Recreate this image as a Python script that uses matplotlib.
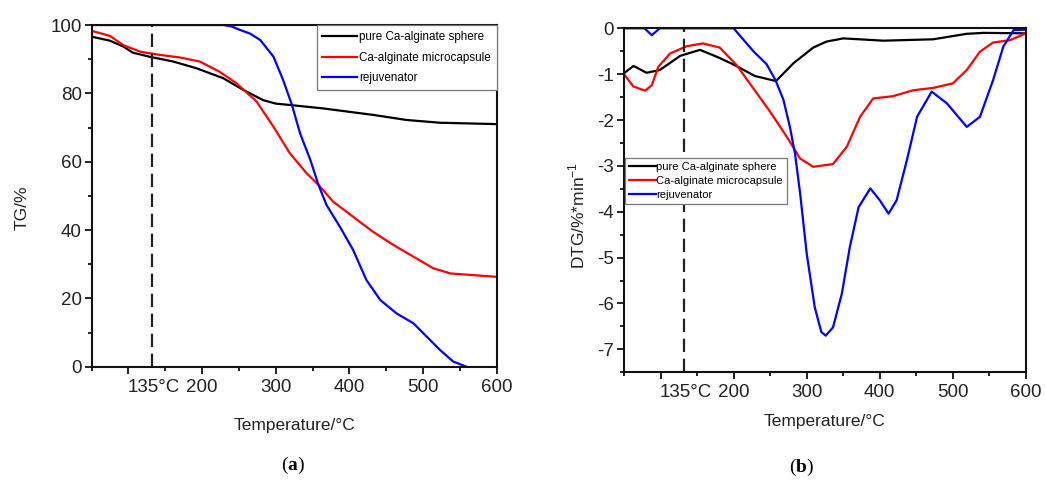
import numpy as np
import matplotlib.pyplot as plt
from matplotlib.ticker import FixedLocator, MultipleLocator
import matplotlib.transforms as mtransforms

plt.rcParams['font.family'] = ['Liberation Sans', 'DejaVu Sans']
plt.rcParams['axes.unicode_minus'] = False
plt.rcParams['mathtext.fontset'] = 'custom'
plt.rcParams['mathtext.rm'] = 'Liberation Sans'
plt.rcParams['mathtext.bf'] = 'Liberation Serif:bold'

# ---- TG data (panel a) ----
tg_sphere_T = [50, 75, 93, 106, 129, 161, 193, 229, 256, 283, 300, 319, 364, 432, 478, 523, 600]
tg_sphere_v = [96.6, 95.4, 93.7, 91.9, 90.7, 89.3, 87.3, 84.4, 81.0, 78.0, 77.0, 76.6, 75.6, 73.7, 72.2, 71.4, 71.0]

tg_capsule_T = [50, 75, 93, 116, 138, 170, 197, 224, 247, 274, 297, 319, 342, 358, 378, 405, 432, 460, 487, 514, 537, 568, 600]
tg_capsule_v = [98.3, 96.8, 94.1, 92.2, 91.4, 90.5, 89.3, 86.3, 82.9, 77.6, 70.2, 62.5, 56.6, 53.2, 48.3, 43.9, 39.5, 35.6, 32.2, 28.8, 27.3, 26.8, 26.3]

tg_rejuv_T = [50, 229, 240, 251, 265, 279, 297, 310, 322, 333, 347, 358, 369, 387, 405, 423, 442, 464, 487, 505, 523, 541, 559]
tg_rejuv_v = [100, 100, 99.6, 98.6, 97.5, 95.6, 90.7, 83.9, 76.6, 68.3, 60.5, 53.2, 47.3, 41.0, 34.2, 25.4, 19.5, 15.6, 12.7, 8.8, 4.9, 1.5, 0.0]

# ---- DTG data (panel b) ----
dtg_sphere_T = [50, 63, 81, 99, 127, 154, 177, 200, 229, 258, 282, 309, 327, 350, 405, 473, 519, 542, 600]
dtg_sphere_v = [-0.98, -0.82, -0.97, -0.91, -0.6, -0.47, -0.62, -0.79, -1.04, -1.15, -0.76, -0.42, -0.29, -0.22, -0.27, -0.24, -0.12, -0.1, -0.11]

dtg_capsule_T = [50, 63, 79, 88, 97, 113, 136, 158, 181, 204, 222, 250, 273, 291, 309, 336, 355, 373, 391, 418, 446, 473, 500, 519, 537, 555, 578, 600]
dtg_capsule_v = [-1.0, -1.27, -1.36, -1.24, -0.84, -0.55, -0.39, -0.33, -0.42, -0.8, -1.2, -1.82, -2.37, -2.84, -3.02, -2.96, -2.58, -1.93, -1.53, -1.48, -1.35, -1.3, -1.2, -0.91, -0.51, -0.31, -0.26, -0.11]

dtg_rejuv_T = [50, 78, 88, 99, 200, 227, 245, 257, 268, 277, 284, 291, 300, 311, 320, 326, 336, 348, 359, 371, 387, 400, 412, 423, 437, 451, 471, 492, 519, 537, 555, 569, 583, 600]
dtg_rejuv_v = [0.0, 0.0, -0.15, 0.0, 0.0, -0.5, -0.78, -1.12, -1.55, -2.15, -2.73, -3.6, -4.91, -6.08, -6.62, -6.70, -6.52, -5.79, -4.77, -3.9, -3.49, -3.75, -4.04, -3.75, -2.88, -1.93, -1.38, -1.64, -2.15, -1.93, -1.13, -0.4, -0.04, -0.03]

labels = ['pure Ca-alginate sphere', 'Ca-alginate microcapsule', 'rejuvenator']
colors = ['#000000', '#ff0000', '#0000ff']
mark_T = 132

fig = plt.figure(figsize=(10.45, 4.82), dpi=100)
ax1 = fig.add_axes([0.0877, 0.2392, 0.3876, 0.7089])
ax2 = fig.add_axes([0.5971, 0.2276, 0.3847, 0.7137])


def style_axis(ax):
    for s in ax.spines.values():
        s.set_linewidth(1.5)
        s.set_color('#111111')
    ax.tick_params(which='both', direction='out', top=False, right=False,
                   width=1.3, colors='#111111', labelcolor='#222222', labelsize=13.5)
    ax.tick_params(which='major', length=5)
    ax.tick_params(which='minor', length=3)
    ax.tick_params(axis='y', pad=2)
    ax.xaxis.set_major_locator(FixedLocator([100, 200, 300, 400, 500, 600]))
    ax.set_xticklabels(['', '200', '300', '400', '500', '600'])
    ax.xaxis.set_minor_locator(MultipleLocator(50))
    ax.set_xlim(50, 600)
    trans = mtransforms.blended_transform_factory(ax.transData, ax.transAxes)
    trans = mtransforms.offset_copy(trans, fig=fig, y=-8.5, units='points')
    ax.text(135, 0, '135°C', transform=trans, ha='center', va='top',
            fontsize=13.5, color='#222222')


# panel a
ax1.plot(tg_sphere_T, tg_sphere_v, color=colors[0], lw=1.6, label=labels[0])
ax1.plot(tg_capsule_T, tg_capsule_v, color=colors[1], lw=1.6, label=labels[1])
ax1.plot(tg_rejuv_T, tg_rejuv_v, color=colors[2], lw=1.6, label=labels[2])
ax1.axvline(mark_T, color='#222222', lw=1.6, dashes=(6, 3))
ax1.set_ylim(0, 100)
ax1.yaxis.set_major_locator(MultipleLocator(20))
ax1.yaxis.set_minor_locator(MultipleLocator(10))
style_axis(ax1)
ax1.set_xlabel('Temperature/°C', fontsize=12.5, color='#222222')
ax1.xaxis.set_label_coords(0.5, -0.15)
ax1.set_ylabel('TG/%', fontsize=12.5, color='#222222')
ax1.yaxis.set_label_coords(-0.152, 0.464)
leg1 = ax1.legend(loc='upper right', bbox_to_anchor=(1.0, 1.0), borderaxespad=0,
                  fontsize=8.4, handlelength=3.0, handletextpad=0.15, labelspacing=0.75,
                  borderpad=0.5, fancybox=False, framealpha=1, edgecolor='#777777')
leg1.get_frame().set_linewidth(0.9)

# panel b
ax2.plot(dtg_sphere_T, dtg_sphere_v, color=colors[0], lw=1.6, label=labels[0])
ax2.plot(dtg_capsule_T, dtg_capsule_v, color=colors[1], lw=1.6, label=labels[1])
ax2.plot(dtg_rejuv_T, dtg_rejuv_v, color=colors[2], lw=1.6, label=labels[2])
ax2.axvline(mark_T, color='#222222', lw=1.6, dashes=(6, 3))
ax2.set_ylim(-7.5, 0)
ax2.yaxis.set_major_locator(MultipleLocator(1))
ax2.yaxis.set_minor_locator(MultipleLocator(0.5))
style_axis(ax2)
ax2.set_xlabel('Temperature/°C', fontsize=12.5, color='#222222')
ax2.xaxis.set_label_coords(0.5, -0.12)
ax2.set_ylabel('DTG/%*min$^{-1}$', fontsize=12.5, color='#222222')
ax2.yaxis.set_label_coords(-0.092, 0.457)
leg2 = ax2.legend(loc='upper left', bbox_to_anchor=(0.0025, 0.623), borderaxespad=0,
                  fontsize=8, handlelength=2.4, handletextpad=0.05, labelspacing=0.35,
                  fancybox=False, framealpha=1, edgecolor='#777777', borderpad=0.36)
leg2.get_frame().set_linewidth(0.9)

fig.text(293 / 1045, 1 - 465 / 482, r'($\mathbf{a}$)', ha='center', va='center',
         fontsize=14, family='Liberation Serif')
fig.text(802 / 1045, 1 - 467 / 482, r'($\mathbf{b}$)', ha='center', va='center',
         fontsize=14, family='Liberation Serif')

fig.savefig('out.png', dpi=100)
